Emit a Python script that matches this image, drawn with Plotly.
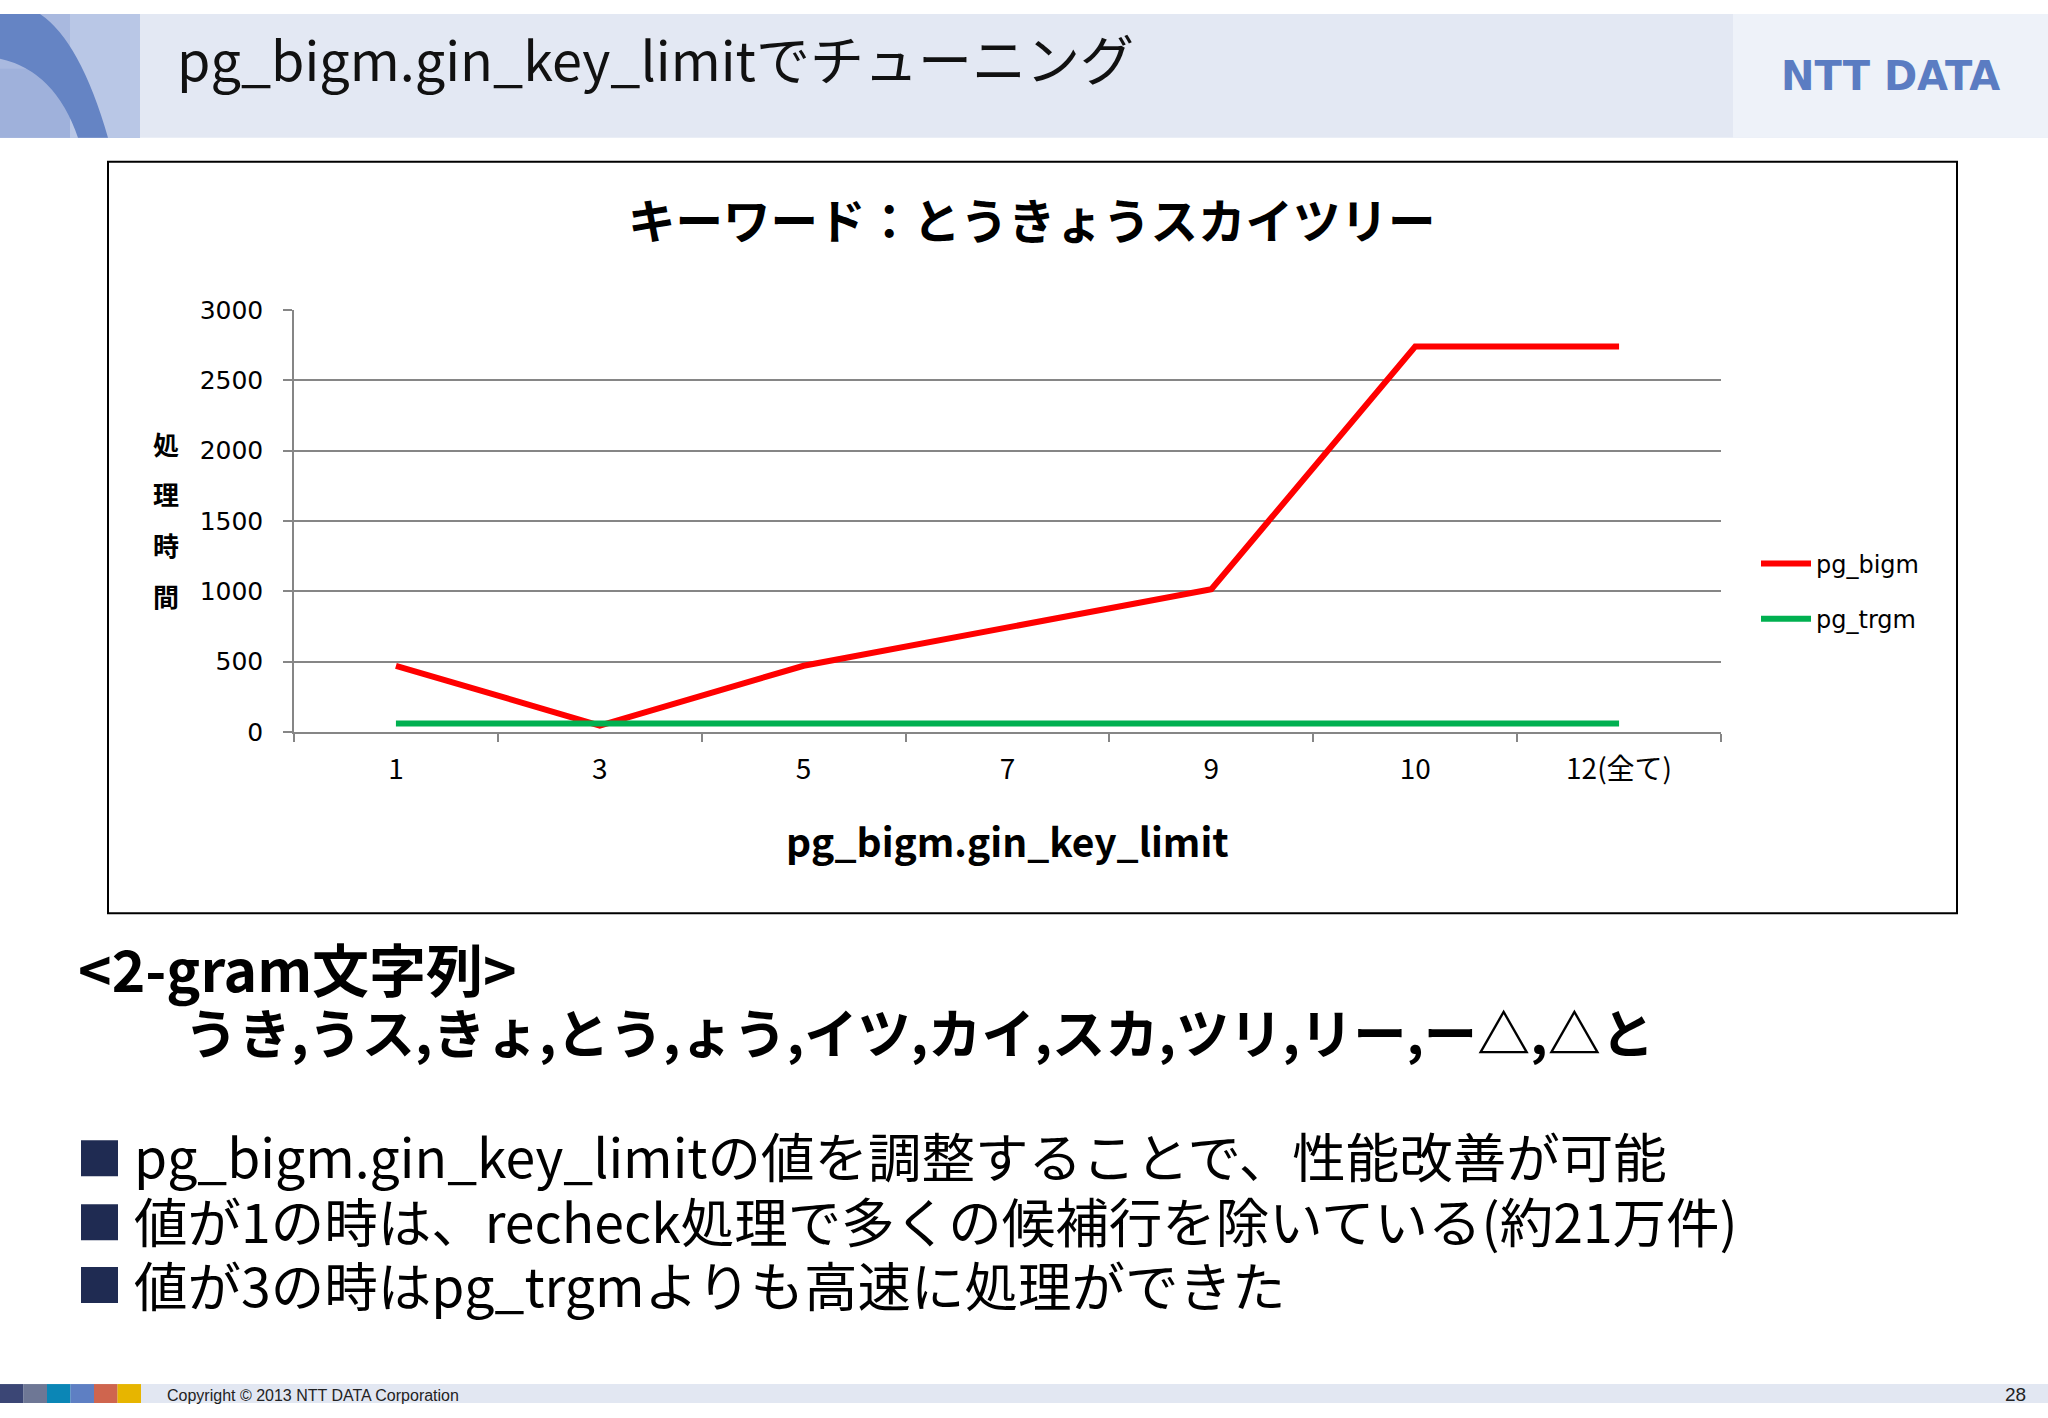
import plotly.graph_objects as go

W, H = 2048, 1418
# the page is shown with a small vertical inset; positions below are given in
# final-picture pixels and mapped to figure pixels here
OFF, SC = 13.3, 0.98


def px(x):
    return x / W


def py(y):
    t = (y - OFF) / SC
    t = min(max(t, 0), H)
    return 1 - t / H


# ---------------- data ----------------
categories = ["1", "3", "5", "7", "9", "10", "12(全て)"]
pg_bigm = [470, 45, 470, 740, 1015, 2740, 2740]
pg_trgm = [60, 60, 60, 60, 60, 60, 60]
y_ticks = [0, 500, 1000, 1500, 2000, 2500, 3000]

page_title = "pg_bigm.gin_key_limitでチューニング"
chart_title = "キーワード：とうきょうスカイツリー"
x_title = "pg_bigm.gin_key_limit"
y_title_chars = ["処", "理", "時", "間"]
gram_heading = "&lt;2-gram文字列&gt;"
gram_list = "うき,うス,きょ,とう,ょう,イツ,カイ,スカ,ツリ,リー,ー△,△と"
bullet_texts = [
    "pg_bigm.gin_key_limitの値を調整することで、性能改善が可能",
    "値が1の時は、recheck処理で多くの候補行を除いている(約21万件)",
    "値が3の時はpg_trgmよりも高速に処理ができた",
]
footer_colors = ["#3b4675", "#6e7795", "#0b86b6", "#5e7fc3", "#cf654e", "#e7b500"]

JP = "Noto Sans CJK JP"
VER = "DejaVu Sans"

fig = go.Figure()
fig.add_trace(go.Scatter(x=categories, y=pg_bigm, name="pg_bigm", mode="lines",
                         line=dict(color="#ff0000", width=6), legendgroup="a"))
fig.add_trace(go.Scatter(x=categories, y=pg_trgm, name="pg_trgm", mode="lines",
                         line=dict(color="#00b050", width=6), legendgroup="b"))


def rect(x0, x1, y0, y1, color, layer="below", line=None):
    return dict(type="rect", xref="paper", yref="paper", x0=px(x0), x1=px(x1), y0=py(y1), y1=py(y0),
                fillcolor=color, line=line or dict(width=0), layer=layer)


shapes = []
# header
shapes.append(rect(0, W, 0, 137, "#e3e8f3"))
shapes.append(rect(1733, W, 0, 137, "#eef2f9"))
# left decoration
shapes.append(rect(0, 140, 0, 137, "#a9b9df"))
shapes.append(rect(70, 140, 0, 137, "#b9c7e6"))
shapes.append(rect(0, 70, 68, 137, "#9fb1db"))
dec = "M {},{} L {},{} Q {},{} {},{} L {},{} Q {},{} {},{} Z".format(
    px(0), py(0), px(40), py(0), px(80), py(40), px(108), py(137), px(78), py(137),
    px(55), py(70), px(0), py(58))
shapes.append(dict(type="path", xref="paper", yref="paper", path=dec,
                   fillcolor="#6584c4", line=dict(width=0), layer="below"))
# chart frame
shapes.append(rect(108, 1957, 161, 913, "#ffffff", line=dict(color="#000000", width=2)))
# bullets
for yc in [1158, 1222, 1285]:
    shapes.append(rect(81, 118, yc - 18, yc + 18, "#1f2b52", layer="above"))
# footer
shapes.append(rect(0, W, 1384, 1418, "#e2e7f2"))
bw = 23.5
for i, c in enumerate(footer_colors):
    shapes.append(rect(i * bw, (i + 1) * bw, 1384, 1418, c))

ann = []


def text(t, x, y, size, family=JP, color="#000000", xanchor="left", bold=False):
    ann.append(dict(text=("<b>%s</b>" % t) if bold else t, x=px(x), y=py(y), xref="paper", yref="paper",
                    xanchor=xanchor, yanchor="middle", showarrow=False, align="left",
                    font=dict(family=family, size=size, color=color)))


def sized(t, size, bold=False):
    s = "<span style='font-size:%.1fpx'>%s</span>" % (size, t)
    return "<b>%s</b>" % s if bold else s


text(page_title, 175, 57, 54, color="#111111")
text("NTT DATA", 1890, 75, 40, family=VER, color="#5b7cc2", xanchor="center", bold=True)
text(chart_title, 1032, 218, 47.5, xanchor="center", bold=True)
text(x_title, 1007, 840, 39, xanchor="center", bold=True)
for i, ch in enumerate(y_title_chars):
    text(ch, 166, 442.5 + i * 51, 26, xanchor="center", bold=True)

# 2-gram block: one text, line pitch set by the base size (1.3 x base)
gram_block = sized(gram_heading, 57, bold=True) + "<br>" + sized("\u3000\u3000" + gram_list, 53.3, bold=True)
text(gram_block, 76, 997.7, 47.4)

# bullet block: one text, line pitch 1.3 x base size
bullet_block = "<br>".join(sized(t, 53.5) for t in bullet_texts)
text(bullet_block, 132, 1219.3, 49.7)

text("Copyright © 2013 NTT DATA Corporation", 165, 1395, 16, family="Liberation Sans", color="#222222")
text("28", 2028, 1394, 19, family="Liberation Sans", color="#222222", xanchor="right")

fig.update_layout(
    width=W, height=H, autosize=False,
    margin=dict(l=0, r=0, t=0, b=0),
    paper_bgcolor="#ffffff", plot_bgcolor="rgba(0,0,0,0)",
    shapes=shapes, annotations=ann,
    xaxis=dict(domain=[px(294), px(1721)], type="category", range=[-0.5, 6.5],
               showgrid=False, showline=True, linecolor="#868686", linewidth=1.5,
               ticks="outside", tickson="boundaries", ticklen=8, tickcolor="#868686", tickwidth=1.5,
               tickfont=dict(family=JP, size=28, color="#000000"), ticklabelstandoff=12,
               zeroline=False, fixedrange=True),
    yaxis=dict(domain=[py(731.5), py(309.5)], range=[0, 3000], tickvals=y_ticks,
               showgrid=True, gridcolor="#868686", gridwidth=1.5,
               showline=True, linecolor="#868686", linewidth=1.5,
               ticks="outside", ticklen=9, tickcolor="#868686", tickwidth=1.5,
               tickfont=dict(family=VER, size=25, color="#000000"), ticklabelstandoff=15,
               zeroline=False, fixedrange=True),
    legend=dict(x=px(1756), y=py(541), xanchor="left", yanchor="top",
                font=dict(family=VER, size=24, color="#000000"),
                bgcolor="rgba(0,0,0,0)", tracegroupgap=21, itemwidth=50),
    showlegend=True,
)

post = (
    "(function(){var s=document.createElement('style');"
    "s.textContent='html,body{margin:0 !important;padding:0 !important;overflow:hidden !important;"
    "height:1418px !important;width:2048px !important;}"
    ".plotly-graph-div{position:fixed !important;left:0 !important;top:0 !important;margin:0 !important;}';"
    "document.head.appendChild(s);window.scrollTo(0,0);})();"
)
fig.write_html("out.html", config={"responsive": False, "displayModeBar": False}, post_script=post)
